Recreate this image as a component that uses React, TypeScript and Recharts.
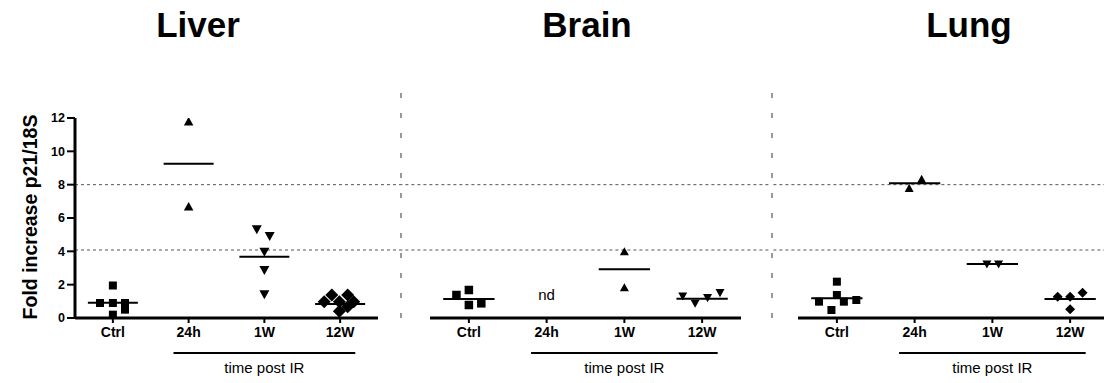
import { ReferenceDot, ReferenceLine, Scatter, ScatterChart, XAxis, YAxis } from "recharts";

const categories = ["Ctrl", "24h", "1W", "12W"];
const yTicks = [0, 2, 4, 6, 8, 10, 12];
const dottedLevels = [8, 4.08];

// liver
const liverCtrl = [
  { x: 0.83, y: 0.9 }, { x: 1, y: 0.9 }, { x: 1.16, y: 0.9 },
  { x: 1, y: 1.95 }, { x: 1, y: 0.2 }, { x: 1.16, y: 0.5 },
];
const liver24h = [{ x: 2, y: 11.78 }, { x: 2, y: 6.68 }];
const liver1W = [
  { x: 2.9, y: 5.32 }, { x: 3.07, y: 4.92 }, { x: 3, y: 3.98 },
  { x: 3, y: 2.88 }, { x: 3, y: 1.42 },
];
const liver12W = [
  { x: 3.79, y: 0.98 }, { x: 3.89, y: 1.38 }, { x: 3.99, y: 0.98 }, { x: 4.1, y: 1.38 },
  { x: 4.18, y: 0.98 }, { x: 3.99, y: 0.4 }, { x: 4.1, y: 0.68 },
];
const liverMeans = [0.92, 9.25, 3.68, 0.84];

// brain
const brainCtrl = [{ x: 0.84, y: 1.38 }, { x: 1, y: 1.68 }, { x: 1, y: 0.78 }, { x: 1.16, y: 0.88 }];
const brain1W = [{ x: 3, y: 3.98 }, { x: 3, y: 1.82 }];
const brain12W = [{ x: 3.75, y: 1.32 }, { x: 3.91, y: 0.88 }, { x: 4.07, y: 1.22 }, { x: 4.23, y: 1.52 }];
const brainMeans = [1.14, null, 2.92, 1.16];

// lung
const lungCtrl = [
  { x: 0.77, y: 0.98 }, { x: 1, y: 2.18 }, { x: 1, y: 1.38 },
  { x: 1.09, y: 0.98 }, { x: 1.25, y: 1.08 }, { x: 0.93, y: 0.48 },
];
const lung24h = [{ x: 1.93, y: 7.78 }, { x: 2.09, y: 8.32 }];
const lung1W = [{ x: 2.93, y: 3.24 }, { x: 3.08, y: 3.24 }];
const lung12W = [{ x: 3.84, y: 1.28 }, { x: 4, y: 1.28 }, { x: 4.16, y: 1.52 }, { x: 4, y: 0.52 }];
const lungMeans = [1.18, 8.08, 3.24, 1.14];

const FONT = "'Liberation Sans', Arial, Helvetica, sans-serif";
const H = 383;
const meanHalf = 0.33;
const bracketLevel = -2.1;

type Kind = "square" | "up" | "down" | "diamond";
type Group = { data: { x: number; y: number }[]; kind: Kind; size: number };

function Marker({ cx, cy, kind, size }: { cx: number; cy: number; kind: Kind; size: number }) {
  const h = size / 2;
  if (kind === "square") return <rect x={cx - h} y={cy - h} width={size} height={size} fill="#000" />;
  if (kind === "up")
    return <polygon points={`${cx},${cy - h} ${cx + h},${cy + h * 0.8} ${cx - h},${cy + h * 0.8}`} fill="#000" />;
  if (kind === "down")
    return <polygon points={`${cx},${cy + h} ${cx + h},${cy - h * 0.8} ${cx - h},${cy - h * 0.8}`} fill="#000" />;
  return <polygon points={`${cx},${cy - h} ${cx + h},${cy} ${cx},${cy + h} ${cx - h},${cy}`} fill="#000" />;
}

function Panel({
  left, width, ml, mr, groups, means, first, nd,
}: {
  left: number; width: number; ml: number; mr: number; groups: Group[];
  means: (number | null)[]; first?: boolean; nd?: boolean;
}) {
  const yw = first ? 40 : 0;
  const unit = (width - ml - mr - yw) / 4;
  const sepX = 0.5 - (ml - 1) / unit;
  return (
    <div style={{ position: "absolute", left, top: 0 }}>
      <ScatterChart width={width} height={H} margin={{ top: 118, right: mr, bottom: 35, left: ml }}>
        <XAxis
          type="number"
          dataKey="x"
          domain={[0.5, 4.5]}
          ticks={[1, 2, 3, 4]}
          interval={0}
          allowDataOverflow
          tickFormatter={(v: number) => categories[v - 1]}
          height={30}
          tickSize={5}
          tickMargin={4}
          axisLine={{ stroke: "#000", strokeWidth: 3 }}
          tickLine={{ stroke: "#000", strokeWidth: 2 }}
          tick={{ fontSize: 14, fontWeight: 700, fill: "#000", fontFamily: FONT }}
        />
        <YAxis
          type="number"
          dataKey="y"
          domain={[0, 12]}
          ticks={yTicks}
          interval={0}
          allowDataOverflow
          hide={!first}
          width={yw}
          tickSize={8}
          tickMargin={2}
          axisLine={{ stroke: "#000", strokeWidth: 3 }}
          tickLine={{ stroke: "#000", strokeWidth: 2 }}
          tick={{ fontSize: 12.5, fontWeight: 700, fill: "#000", fontFamily: FONT }}
        />
        {dottedLevels.map((lv) => (
          <ReferenceLine
            key={lv}
            segment={[{ x: first ? 0.5 : -9, y: lv }, { x: 9, y: lv }]}
            stroke="#555"
            strokeDasharray="3 3"
            strokeWidth={1}
            ifOverflow="visible"
          />
        ))}
        {!first && (
          <ReferenceLine
            segment={[{ x: sepX, y: 0 }, { x: sepX, y: 14 }]}
            stroke="#333"
            strokeDasharray="5 15"
            strokeWidth={1}
            ifOverflow="visible"
          />
        )}
        {means.map((m, i) =>
          m === null ? null : (
            <ReferenceLine
              key={i}
              segment={[{ x: i + 1 - meanHalf, y: m }, { x: i + 1 + meanHalf, y: m }]}
              stroke="#000"
              strokeWidth={2}
              ifOverflow="visible"
            />
          )
        )}
        <ReferenceLine
          segment={[{ x: 1.8, y: bracketLevel }, { x: 4.2, y: bracketLevel }]}
          stroke="#000"
          strokeWidth={2}
          ifOverflow="visible"
          label={{ value: "time post IR", position: "bottom", offset: 9, fontSize: 15, fill: "#000", fontFamily: FONT }}
        />
        {nd && (
          <ReferenceDot
            x={2}
            y={1.4}
            r={0}
            fill="none"
            stroke="none"
            ifOverflow="visible"
            label={{ value: "nd", position: "center", fontSize: 15, fill: "#000", fontFamily: FONT }}
          />
        )}
        {groups.map((g, i) => (
          <Scatter
            key={i}
            data={g.data}
            isAnimationActive={false}
            shape={(p: any) => <Marker cx={p.cx} cy={p.cy} kind={g.kind} size={g.size} />}
          />
        ))}
      </ScatterChart>
    </div>
  );
}

const titleStyle = {
  position: "absolute" as const,
  top: 7,
  fontSize: 35,
  lineHeight: "35px",
  fontWeight: 700,
  transform: "translateX(-50%)",
  whiteSpace: "nowrap" as const,
};

export default function App() {
  return (
    <div
      style={{
        position: "absolute",
        left: 0,
        top: 0,
        width: 1104,
        height: H,
        overflow: "hidden",
        background: "#fff",
        fontFamily: FONT,
        color: "#000",
      }}
    >
      <Panel
        left={0}
        width={400}
        ml={35}
        mr={22}
        first
        means={liverMeans}
        groups={[
          { data: liverCtrl, kind: "square", size: 8 },
          { data: liver24h, kind: "up", size: 9.5 },
          { data: liver1W, kind: "down", size: 10 },
          { data: liver12W, kind: "diamond", size: 13 },
        ]}
      />
      <Panel
        left={400}
        width={371}
        ml={30}
        mr={30}
        nd
        means={brainMeans}
        groups={[
          { data: brainCtrl, kind: "square", size: 8.5 },
          { data: brain1W, kind: "up", size: 9 },
          { data: brain12W, kind: "down", size: 9 },
        ]}
      />
      <Panel
        left={771}
        width={338}
        ml={27}
        mr={0}
        means={lungMeans}
        groups={[
          { data: lungCtrl, kind: "square", size: 8 },
          { data: lung24h, kind: "up", size: 9 },
          { data: lung1W, kind: "down", size: 9 },
          { data: lung12W, kind: "diamond", size: 10 },
        ]}
      />
      <div style={{ ...titleStyle, left: 198 }}>Liver</div>
      <div style={{ ...titleStyle, left: 587 }}>Brain</div>
      <div style={{ ...titleStyle, left: 969 }}>Lung</div>
      <div
        style={{
          position: "absolute",
          left: 31,
          top: 217,
          fontSize: 19.5,
          lineHeight: 1,
          fontWeight: 700,
          whiteSpace: "nowrap",
          transform: "translate(-50%, -50%) rotate(-90deg)",
        }}
      >
        Fold increase p21/18S
      </div>
    </div>
  );
}
